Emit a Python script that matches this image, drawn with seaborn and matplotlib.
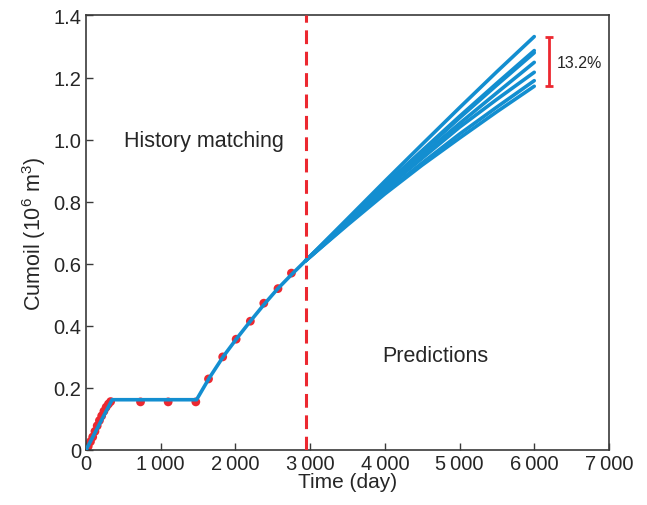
import numpy as np
import pandas as pd
import matplotlib
matplotlib.use("Agg")
import matplotlib.pyplot as plt
import seaborn as sns

# observed production (red dots)
obs_time = [0, 30, 60, 90, 120, 150, 180, 210, 240, 270, 300, 330,
            730, 1100, 1470, 1640, 1830, 2010, 2200, 2380, 2570, 2750]
obs_cum = [0.0, 0.012, 0.027, 0.042, 0.06, 0.078, 0.095, 0.11, 0.125, 0.138, 0.148, 0.156,
           0.155, 0.155, 0.155, 0.229, 0.30, 0.357, 0.415, 0.473, 0.52, 0.57]

# history-matched model (blue)
hist_time = [0, 350, 1480, 1650, 1840, 2020, 2200, 2380, 2560, 2750, 2940]
hist_cum = [0.0, 0.162, 0.162, 0.232, 0.302, 0.36, 0.415, 0.468, 0.518, 0.565, 0.61]

# prediction runs
pred_time = [2940, 3500, 4000, 4500, 5000, 5500, 6000]
pred_runs = {
    "r1": [0.61, 0.745, 0.866, 0.985, 1.103, 1.219, 1.332],
    "r2": [0.61, 0.74, 0.855, 0.965, 1.075, 1.182, 1.287],
    "r3": [0.61, 0.735, 0.85, 0.96, 1.07, 1.176, 1.28],
    "r4": [0.61, 0.735, 0.845, 0.95, 1.052, 1.151, 1.249],
    "r5": [0.61, 0.73, 0.84, 0.94, 1.04, 1.13, 1.217],
    "r6": [0.61, 0.728, 0.83, 0.925, 1.018, 1.105, 1.19],
    "r7": [0.61, 0.725, 0.825, 0.918, 1.005, 1.09, 1.172],
}
split_day = 2940
spread_low, spread_high = 1.172, 1.332
spread_label = "13.2%"

xticks = [0, 1000, 2000, 3000, 4000, 5000, 6000, 7000]
xtick_labels = ["0", "1\u2009000", "2\u2009000", "3\u2009000", "4\u2009000", "5\u2009000", "6\u2009000", "7\u2009000"]
yticks = [0, 0.2, 0.4, 0.6, 0.8, 1.0, 1.2, 1.4]
ytick_labels = ["0", "0.2", "0.4", "0.6", "0.8", "1.0", "1.2", "1.4"]

sns.set_style("ticks")
plt.rcParams['font.family'] = ['Liberation Sans', 'DejaVu Sans']
plt.rcParams['mathtext.default'] = 'regular'

blue = "#138ed0"
red = "#ec2830"
frame = "#3a3a3a"

fig = plt.figure(figsize=(6.47, 5.06), dpi=100)
ax = fig.add_axes([0.1329, 0.1087, 0.8083, 0.8587])

pred_df = pd.DataFrame([(k, t, v) for k, vals in pred_runs.items() for t, v in zip(pred_time, vals)],
                       columns=["run", "time", "cum"])

sns.scatterplot(x=obs_time, y=obs_cum, color=red, s=40, edgecolor="none", ax=ax, zorder=2)
sns.lineplot(x=hist_time, y=hist_cum, color=blue, lw=2.6, ax=ax, zorder=3, sort=False)
sns.lineplot(data=pred_df, x="time", y="cum", units="run", estimator=None,
             color=blue, lw=2.6, ax=ax, zorder=3)

ax.axvline(split_day, color=red, lw=2.2, ls=(0, (4.5, 2.5)), zorder=4)

# spread bar
ax.errorbar([6200], [(spread_low + spread_high) / 2], yerr=[[(spread_high - spread_low) / 2]] * 2,
            color=red, lw=2, capsize=3, capthick=2)
ax.text(6300, 1.249, spread_label, fontsize=11.5, va="center", ha="left")

ax.text(1580, 0.996, "History matching", fontsize=15.5, ha="center", va="center")
ax.text(4680, 0.306, "Predictions", fontsize=15.5, ha="center", va="center")

ax.set_xlim(0, 7000)
ax.set_ylim(0, 1.4)
ax.set_xticks(xticks)
ax.set_xticklabels(xtick_labels)
ax.set_yticks(yticks)
ax.set_yticklabels(ytick_labels)
ax.tick_params(direction="in", labelsize=14.5, length=5, width=1, color=frame)
ax.tick_params(axis="x", pad=3)
for s in ax.spines.values():
    s.set_visible(True)
    s.set_color(frame)
    s.set_linewidth(1.2)

ax.set_xlabel("Time (day)", fontsize=15, labelpad=-1)
ax.set_ylabel("Cumoil (10$^6$ m$^3$)", fontsize=15.5, labelpad=4)

fig.savefig("out.png", dpi=100)
